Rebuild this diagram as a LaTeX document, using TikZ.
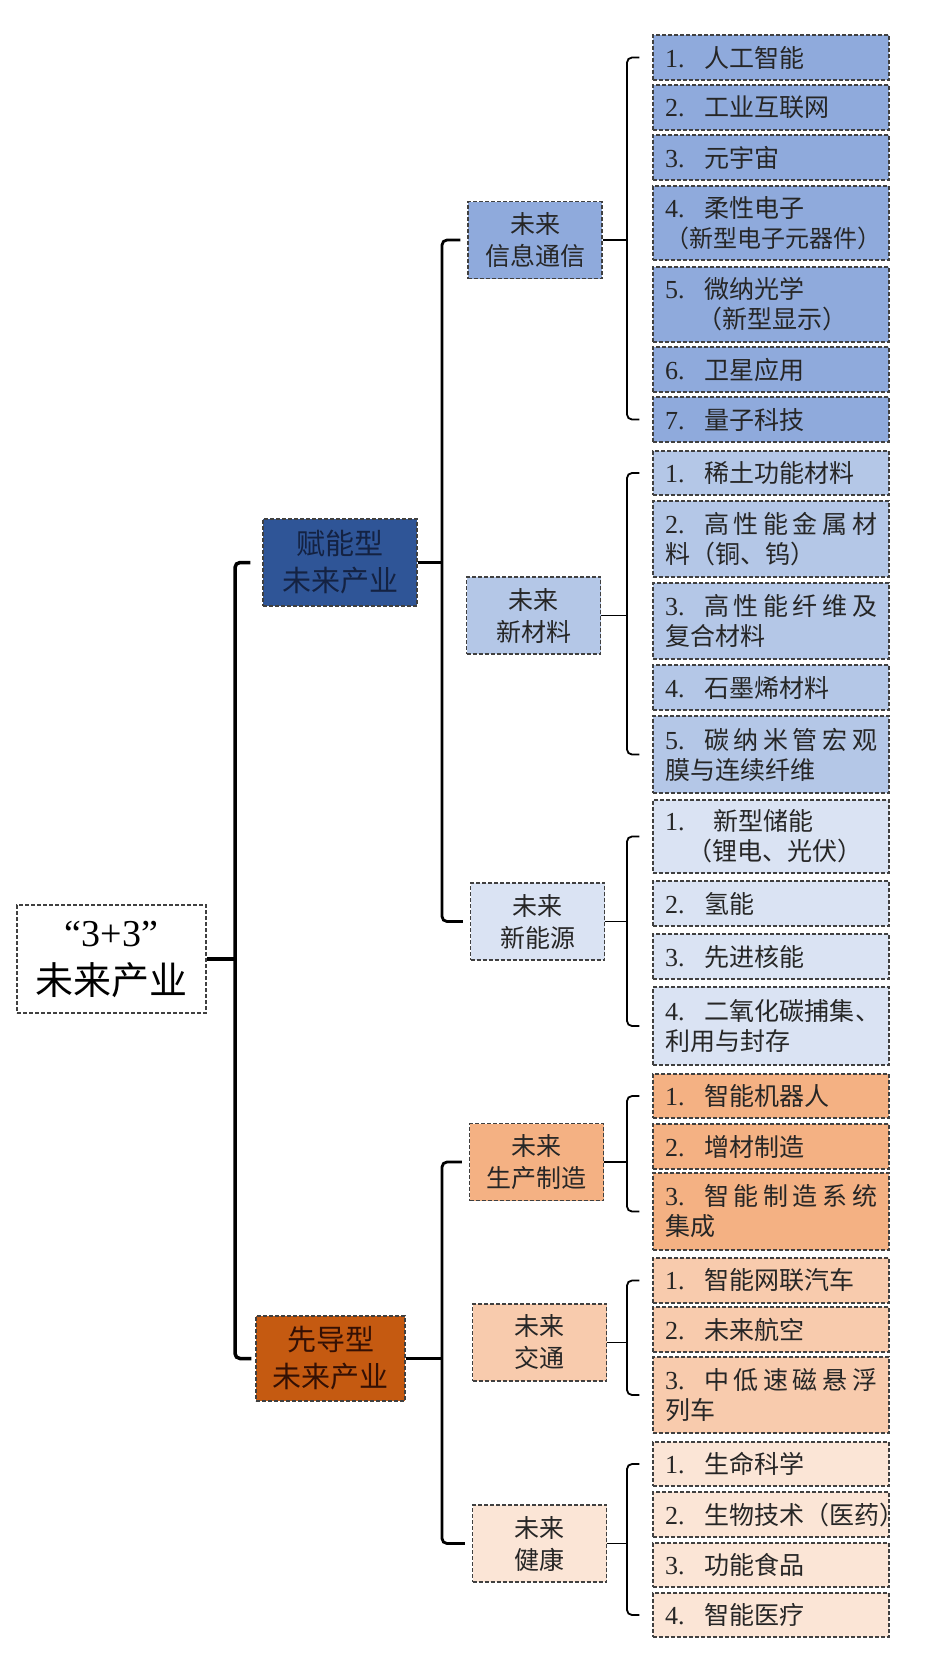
\documentclass[tikz,border=0pt]{standalone}
\usepackage{fontspec}
\setmainfont{Liberation Serif}
\newfontfamily\cjk{Noto Sans CJK SC}
\newcommand{\itemno}[1]{\makebox[39pt][l]{\rmfamily\fontsize{26}{29}\selectfont #1}}
\begin{document}
\begin{tikzpicture}[x=1pt,y=-1pt,
    box/.style={rectangle, draw=black!75, line width=1.2pt, dash pattern=on 4pt off 2pt, inner sep=0pt},
    leaf/.style={box, minimum width=236pt, text width=212pt, align=left, text=black!85,
        font=\cjk\fontsize{25}{30}\selectfont},
    branch/.style={box, minimum width=134pt, minimum height=77pt, align=center, text=black!85,
        font=\cjk\fontsize{25}{32}\selectfont},
    lvlone/.style={box, align=center, font=\cjk\fontsize{29}{37}\selectfont},
    brk0/.style={line width=3.5pt, rounded corners=5pt},
    brk1/.style={line width=2.8pt, rounded corners=5pt},
    brk2/.style={line width=1.8pt, rounded corners=5pt}]
    % Define group colors
    \definecolor{cinfo}{RGB}{143,170,220}
    \definecolor{cmat}{RGB}{180,199,231}
    \definecolor{cenergy}{RGB}{218,227,243}
    \definecolor{cfn}{RGB}{47,85,151}
    \definecolor{cfntext}{RGB}{20,34,66}
    \definecolor{cprod}{RGB}{244,177,131}
    \definecolor{ctrans}{RGB}{248,203,173}
    \definecolor{chealth}{RGB}{251,229,214}
    \definecolor{cxd}{RGB}{197,90,17}
    \definecolor{cxdtext}{RGB}{52,16,4}

    \fill[white] (0,0) rectangle (944,1674);
    \useasboundingbox (0,0) rectangle (944,1674);

    % Root
    \node[box, fill=white, minimum width=189pt, minimum height=108pt, align=center,
        font=\fontsize{38}{48}\selectfont] (root) at (111.5,959) {“3+3”\\{\cjk 未来产业}};

    % Two kinds
    \node[lvlone, fill=cfn, text=cfntext, minimum width=154pt, minimum height=87pt] (fn) at (340,562.5) {赋能型\\未来产业};
    \node[lvlone, fill=cxd, text=cxdtext, minimum width=149pt, minimum height=85pt] (xd) at (330.5,1358.5) {先导型\\未来产业};

    % Six fields
    \node[branch, fill=cinfo] (info) at (535,240) {未来\\信息通信};
    \node[branch, fill=cmat] (mat) at (533.5,615.5) {未来\\新材料};
    \node[branch, fill=cenergy] (energy) at (537.5,921.5) {未来\\新能源};
    \node[branch, fill=cprod] (prod) at (536.5,1162) {未来\\生产制造};
    \node[branch, fill=ctrans] (trans) at (539.5,1342.5) {未来\\交通};
    \node[branch, fill=chealth] (health) at (539.5,1543.5) {未来\\健康};

    % Information and communication
    \foreach \y/\h/\t [count=\i] in {57.5/45/{\itemno{1.}人工智能}, 107.5/45/{\itemno{2.}工业互联网},
        157.5/45/{\itemno{3.}元宇宙}, 223/74/{\itemno{4.}柔性电子\\{\fontsize{24}{29}\selectfont（新型电子元器件）}},
        304.5/75/{\itemno{5.}微纳光学\\\hspace*{32pt}（新型显示）}, 369.5/45/{\itemno{6.}卫星应用},
        419.5/45/{\itemno{7.}量子科技}} {
        \node[leaf, fill=cinfo, minimum height=\h pt] (info\i) at (771,\y) {\t};
    }

    % New materials
    \foreach \y/\h/\t [count=\i] in {473/44/{\itemno{1.}稀土功能材料},
        539/76/{\itemno{2.}\makebox[173pt][s]{高\hfill 性\hfill 能\hfill 金\hfill 属\hfill 材}\\料（铜、钨）},
        621/76/{\itemno{3.}\makebox[173pt][s]{高\hfill 性\hfill 能\hfill 纤\hfill 维\hfill 及}\\复合材料},
        687.5/45/{\itemno{4.}石墨烯材料},
        754.5/77/{\itemno{5.}\makebox[173pt][s]{碳\hfill 纳\hfill 米\hfill 管\hfill 宏\hfill 观}\\膜与连续纤维}} {
        \node[leaf, fill=cmat, minimum height=\h pt] (mat\i) at (771,\y) {\t};
    }

    % New energy
    \foreach \y/\h/\t [count=\i] in {836.5/73/{\itemno{1.}\hspace{9pt}新型储能\\\hspace*{22pt}（锂电、光伏）},
        903.5/45/{\itemno{2.}氢能}, 956.5/45/{\itemno{3.}先进核能},
        1026/78/{\itemno{4.}\makebox[176pt][s]{二\hfill 氧\hfill 化\hfill 碳\hfill 捕\hfill 集\hfill 、}\\利用与封存}} {
        \node[leaf, fill=cenergy, minimum height=\h pt] (energy\i) at (771,\y) {\t};
    }

    % Production
    \foreach \y/\h/\t [count=\i] in {1096/44/{\itemno{1.}智能机器人}, 1146.5/45/{\itemno{2.}增材制造},
        1211.5/77/{\itemno{3.}\makebox[173pt][s]{智\hfill 能\hfill 制\hfill 造\hfill 系\hfill 统}\\集成}} {
        \node[leaf, fill=cprod, minimum height=\h pt] (prod\i) at (771,\y) {\t};
    }

    % Transport
    \foreach \y/\h/\t [count=\i] in {1280.5/45/{\itemno{1.}智能网联汽车}, 1329.5/45/{\itemno{2.}未来航空},
        1395/76/{\itemno{3.}\makebox[173pt][s]{中\hfill 低\hfill 速\hfill 磁\hfill 悬\hfill 浮}\\列车}} {
        \node[leaf, fill=ctrans, minimum height=\h pt] (trans\i) at (771,\y) {\t};
    }

    % Health
    \foreach \y/\h/\t [count=\i] in {1464/44/{\itemno{1.}生命科学}, 1514.5/45/{\itemno{2.}生物技术（医药）},
        1565/44/{\itemno{3.}功能食品}, 1615/44/{\itemno{4.}智能医疗}} {
        \node[leaf, fill=chealth, minimum height=\h pt] (health\i) at (771,\y) {\t};
    }

    % Brackets
    \coordinate (rb) at (235,0);
    \coordinate (lb) at (442,0);
    \coordinate (sb) at (627,0);
    \draw[brk0] (root.east) -- (root.east -| rb);
    \draw[brk0] ([xshift=-12pt]fn.west) -- (fn.west -| rb) -- (xd.west -| rb) -- ([xshift=-4pt]xd.west);

    \draw[brk1] (fn.east) -- (fn.east -| lb);
    \draw[brk1] ([xshift=-7pt]info.west) -- (info.west -| lb) -- (energy.west -| lb) -- ([xshift=-7pt]energy.west);
    \draw[brk1] (xd.east) -- (xd.east -| lb);
    \draw[brk1] ([xshift=-7pt]prod.west) -- (prod.west -| lb) -- (health.west -| lb) -- ([xshift=-7pt]health.west);

    \foreach \g/\n in {info/7, mat/5, energy/4, prod/3, trans/3, health/4} {
        \draw[brk2] (\g.east) -- (\g.east -| sb);
        \draw[brk2] ([xshift=-13pt]\g1.west) -- (\g1.west -| sb) -- (\g\n.west -| sb) -- ([xshift=-13pt]\g\n.west);
    }
\end{tikzpicture}
\end{document}
